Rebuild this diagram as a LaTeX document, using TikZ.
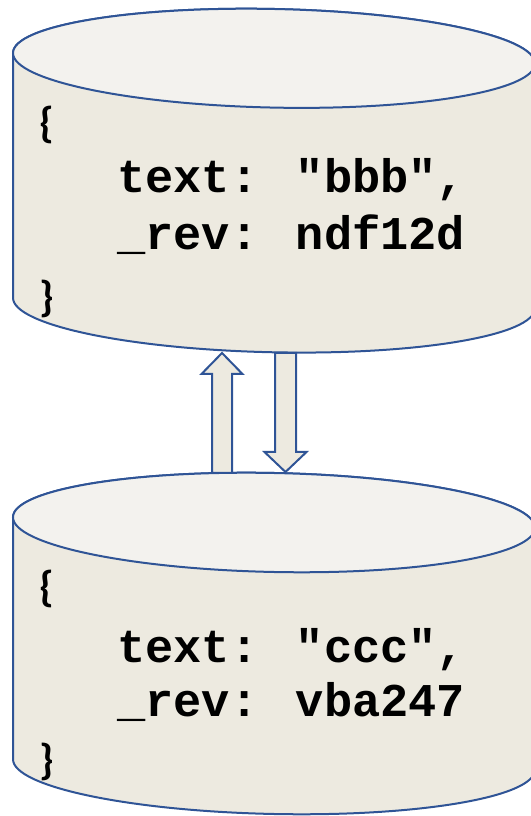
\documentclass[tikz,border=0pt]{standalone}
\usepackage{fontspec}
\newfontfamily\codefont{Liberation Mono}
\newfontfamily\bracefont{Carlito}
\definecolor{bodyc}{RGB}{237,234,224}
\definecolor{topc}{RGB}{243,242,238}
\definecolor{edgec}{RGB}{47,84,150}
\tikzset{
  cylbody/.style={fill=bodyc, draw=edgec, line width=2pt, line join=round},
  cyltop/.style={fill=topc, draw=edgec, line width=2pt},
  blockarrow/.style={fill=bodyc, draw=edgec, line width=2pt, line join=miter},
  codeline/.style={anchor=base west, inner sep=0pt, font=\codefont\bfseries\fontsize{47}{57}\selectfont},
  bracetext/.style={anchor=center, inner sep=0pt, font=\bracefont\bfseries\fontsize{43}{46}\selectfont}
}
\begin{document}
\begin{tikzpicture}[x=1pt,y=1pt]
\useasboundingbox (0,0) rectangle (530,816);
% top cylinder
\begin{scope}[shift={(274,757.7)}, yslant=-0.02]
  \path[cylbody] (-261,0) -- (-261,-244.7)
     arc[start angle=180, end angle=360, x radius=261, y radius=49.3]
     -- (261,0) arc[start angle=0, end angle=180, x radius=261, y radius=49.3] -- cycle;
  \path[cyltop] (0,0) ellipse[x radius=261, y radius=49.3];
\end{scope}
% bottom cylinder
\begin{scope}[shift={(274,293.5)}, yslant=-0.02]
  \path[cylbody] (-261,0) -- (-261,-242)
     arc[start angle=180, end angle=360, x radius=261, y radius=49.5]
     -- (261,0) arc[start angle=0, end angle=180, x radius=261, y radius=49.5] -- cycle;
  \path[cyltop] (0,0) ellipse[x radius=261, y radius=49.5];
\end{scope}
% texts, top
\node[bracetext] (t1) at (46.5,691.5) {\{};
\node[codeline] (t2) at (117,623) {text: "bbb",};
\node[codeline] (t3) at (117,566) {\_rev: ndf12d};
\node[bracetext] (t4) at (46.5,517.5) {\}};
% texts, bottom
\node[bracetext] (b1) at (46.5,227.5) {\{};
\node[codeline] (b2) at (117,153) {text: "ccc",};
\node[codeline] (b3) at (117,99) {\_rev: vba247};
\node[bracetext] (b4) at (46.5,54.5) {\}};
% arrow anchors
\coordinate (ua) at (222,343);
\coordinate (ub) at (222,463);
\coordinate (da) at (285.5,463);
\coordinate (db) at (285.5,344);
% up arrow
\draw[blockarrow] (ua) ++(-10,0) -- ++(0,99) -- ++(-10.5,0) -- (ub)
   -- ++(20.5,-21) -- ++(-10.5,0) -- ++(0,-99) -- cycle;
% down arrow
\draw[blockarrow] (da) ++(-10.5,0) -- ++(0,-99) -- ++(-10.5,0) -- (db)
   -- ++(21,20) -- ++(-10.5,0) -- ++(0,99) -- cycle;
\end{tikzpicture}
\end{document}
